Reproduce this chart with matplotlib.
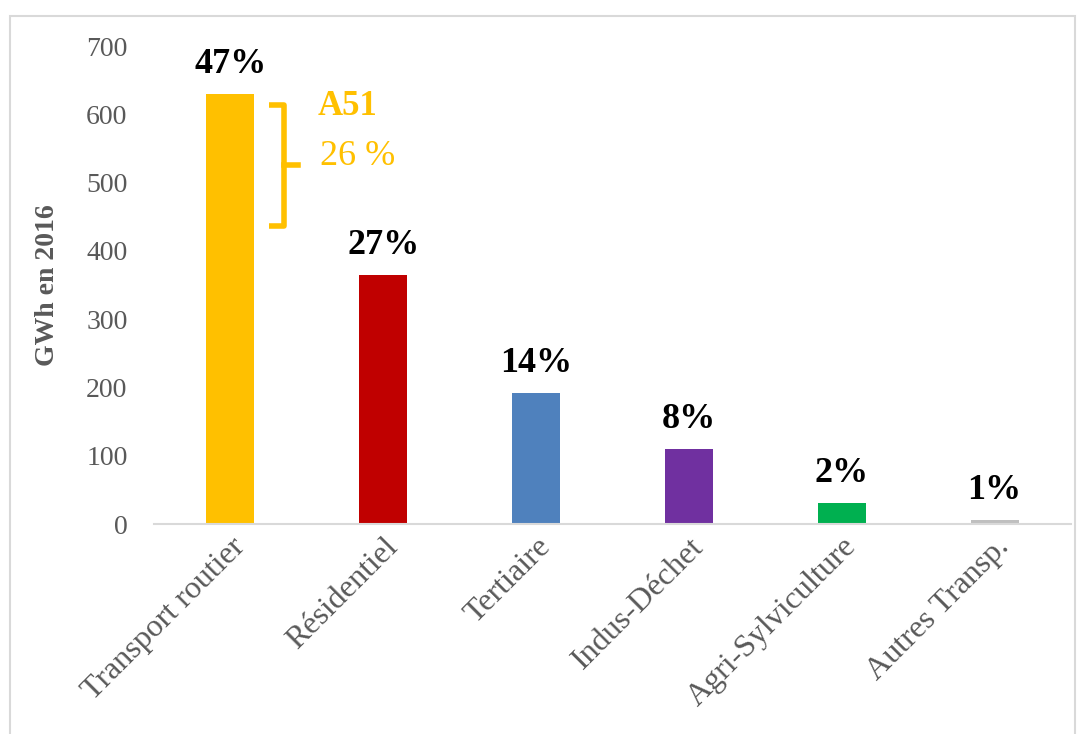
import matplotlib
matplotlib.use("Agg")
import matplotlib.pyplot as plt
from matplotlib.patches import Rectangle

categories = ["Transport routier", "Résidentiel", "Tertiaire", "Indus-Déchet",
              "Agri-Sylviculture", "Autres Transp."]
values = [630, 365, 192, 110, 31, 6]
pct_labels = ["47%", "27%", "14%", "8%", "2%", "1%"]
colors = ["#FFC000", "#C00000", "#4F81BD", "#7030A0", "#00B050", "#BFBFBF"]
y_ticks = [0, 100, 200, 300, 400, 500, 600, 700]

plt.rcParams['font.family'] = ['Liberation Serif', 'DejaVu Serif']

fig = plt.figure(figsize=(10.83, 7.34), dpi=100)
# outer frame
fig.patches.append(Rectangle((10/1083, -0.05), 1065/1083, 1.05 - 16/734, transform=fig.transFigure,
                             fill=False, edgecolor="#D9D9D9", linewidth=1.5))
ax = fig.add_axes([154/1083, 1 - 524/734, 917/1083, (524 - 46)/734])

x = list(range(len(categories)))
ax.bar(x, values, width=0.314, color=colors)
ax.set_xlim(-0.5, len(categories) - 0.5)
ax.set_ylim(0, 700)
ax.set_yticks(y_ticks)
ax.set_yticklabels([str(t) for t in y_ticks], fontsize=20, color="#595959")
ax.tick_params(axis='y', length=0, pad=19)
ax.tick_params(axis='x', length=0, pad=6)
ax.set_xticks(x)
ax.set_xticklabels(categories, rotation=45, ha='right', rotation_mode='anchor',
                   fontsize=23, color="#595959")
for s in ["top", "right", "left"]:
    ax.spines[s].set_visible(False)
ax.spines["bottom"].set_color("#D9D9D9")
ax.spines["bottom"].set_linewidth(1.5)

ax.set_ylabel("GWh en 2016", fontsize=20, fontweight='bold', color="#595959")
ax.yaxis.set_label_coords(-0.1025, 0.5)

for xi, v, lab in zip(x, values, pct_labels):
    ax.annotate(lab, (xi, v), xytext=(0, 9), textcoords='offset points',
                ha='center', va='bottom', fontsize=26, fontweight='bold', color="black")

# A51 bracket
bx0, bx1, bx2 = 0.25, 0.35, 0.44
ytop, ybot, ymid = 613, 436, 526
ax.plot([bx0, bx1, bx1, bx0], [ytop, ytop, ybot, ybot], color="#FFC000", lw=4,
        solid_joinstyle='round', solid_capstyle='butt', clip_on=False)
ax.plot([bx1, bx2], [ymid, ymid], color="#FFC000", lw=4, clip_on=False)
ax.text(0.57, 612, "A51", fontsize=25, fontweight='bold', color="#FFC000", va='center', ha='left')
ax.text(0.585, 538, "26 %", fontsize=26, color="#FFC000", va='center', ha='left')

fig.savefig("out.png", dpi=100)
